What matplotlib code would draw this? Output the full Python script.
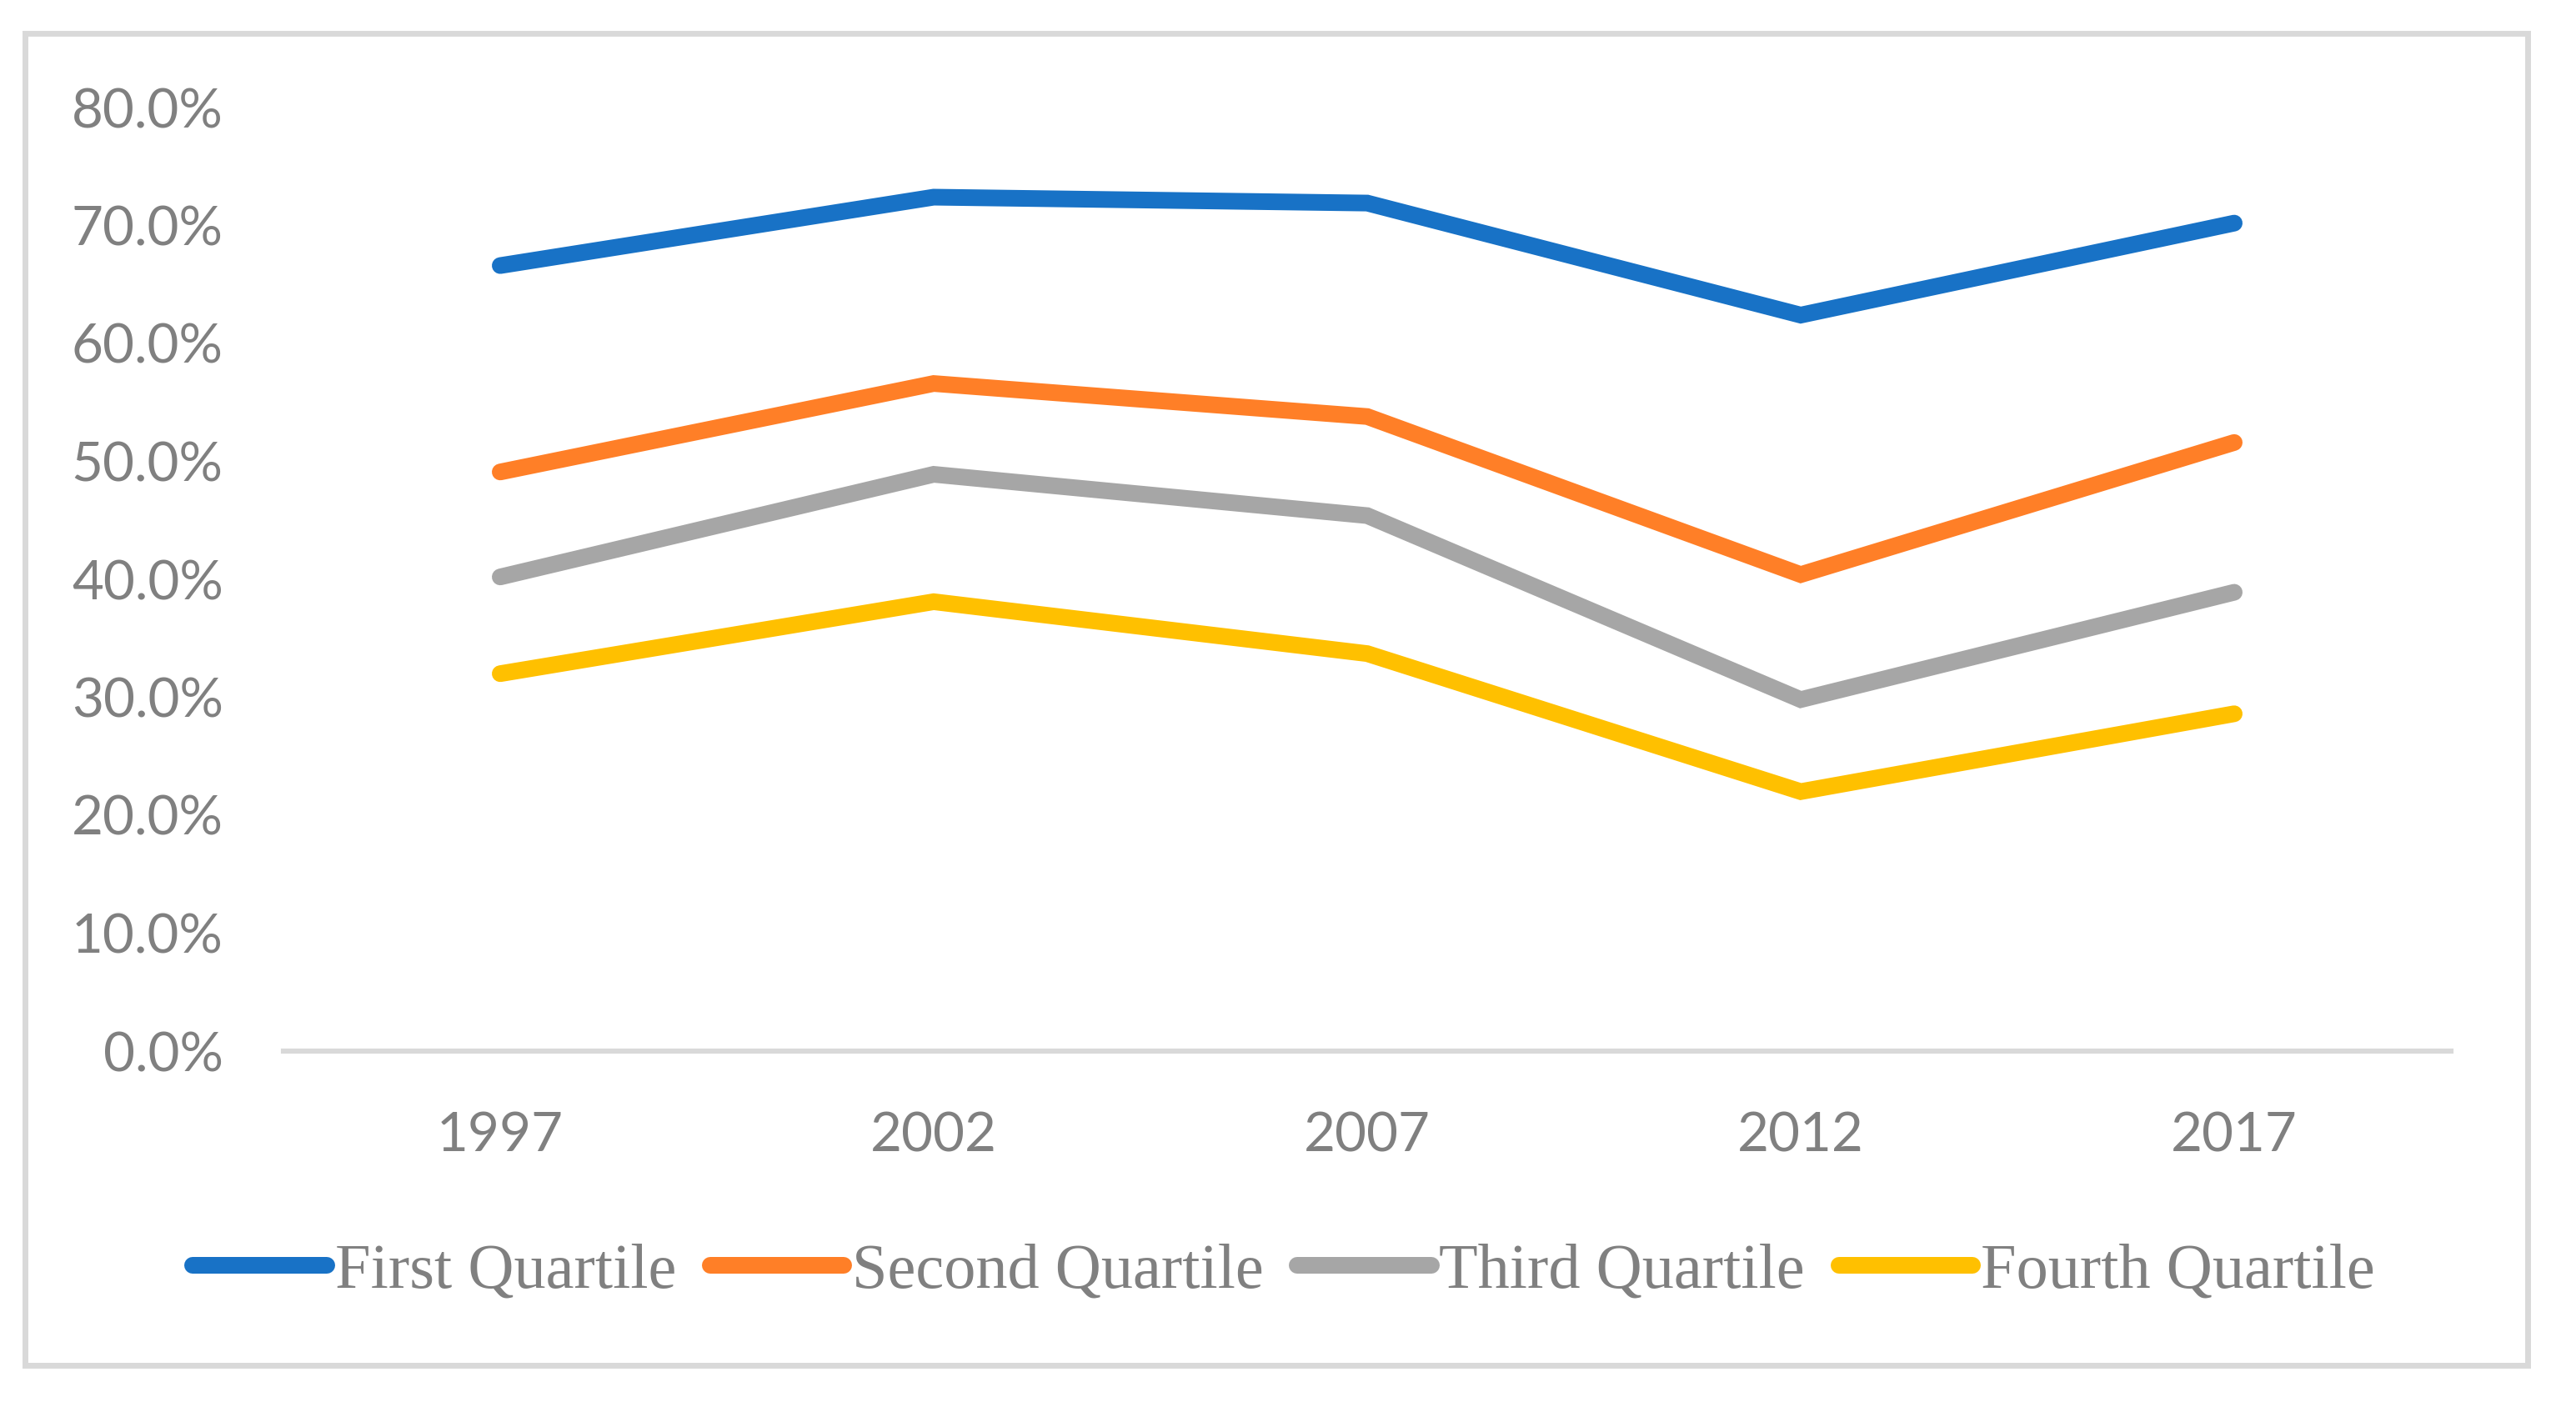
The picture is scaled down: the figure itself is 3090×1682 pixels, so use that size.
import matplotlib
matplotlib.use("Agg")
import matplotlib.pyplot as plt
from matplotlib.patches import Rectangle
from matplotlib.ticker import FuncFormatter

years = ["1997", "2002", "2007", "2012", "2017"]
first_q = [0.666, 0.724, 0.719, 0.624, 0.702]
second_q = [0.491, 0.566, 0.538, 0.404, 0.516]
third_q = [0.402, 0.489, 0.454, 0.298, 0.389]
fourth_q = [0.320, 0.381, 0.337, 0.220, 0.286]
series_names = ["First Quartile", "Second Quartile", "Third Quartile", "Fourth Quartile"]
colors = ["#1872C6", "#FF7F27", "#A6A6A6", "#FFC000"]
yticks = [0.0, 0.1, 0.2, 0.3, 0.4, 0.5, 0.6, 0.7, 0.8]

W, H, DPI = 3090, 1682, 200
fig = plt.figure(figsize=(W / DPI, H / DPI), dpi=DPI)
fig.patch.set_facecolor("white")

# outer frame
fig.patches.append(Rectangle((30 / W, 44 / H), (3032 - 30) / W, (1642 - 44) / H,
                             transform=fig.transFigure, fill=False,
                             edgecolor="#D9D9D9", linewidth=2.5))

ax = fig.add_axes([340 / W, 421 / H, 2600 / W, (1553 - 421) / H])
x = list(range(len(years)))
for vals, name, c in zip([first_q, second_q, third_q, fourth_q], series_names, colors):
    ax.plot(x, vals, color=c, linewidth=7.2, solid_capstyle="round",
            solid_joinstyle="miter", label=name, clip_on=False)

ax.set_xlim(-0.5, len(years) - 0.5)
ax.set_ylim(0, 0.8)
ax.set_xticks(x)
ax.set_xticklabels(years)
ax.set_yticks(yticks)
ax.yaxis.set_major_formatter(FuncFormatter(lambda v, p: f"{v*100:.1f}%"))

for s in ["top", "right", "left"]:
    ax.spines[s].set_visible(False)
ax.spines["bottom"].set_color("#D9D9D9")
ax.spines["bottom"].set_linewidth(2.2)
ax.spines["bottom"].set_zorder(0)

ax.tick_params(axis="both", length=0, labelsize=23.6, labelcolor="#808080")
ax.tick_params(axis="y", pad=26)
ax.tick_params(axis="x", pad=26)
for lab in ax.get_xticklabels() + ax.get_yticklabels():
    lab.set_fontfamily("Lato")

leg = fig.legend(loc="center", bbox_to_anchor=(1540 / W, 156 / H), ncol=4,
                 frameon=False, handlelength=2.1, handletextpad=0.13,
                 columnspacing=0.53, borderpad=0,
                 prop={"family": "Liberation Serif", "size": 27.5})
for t in leg.get_texts():
    t.set_color("#808080")

fig.savefig("out.png", dpi=DPI, facecolor="white")
